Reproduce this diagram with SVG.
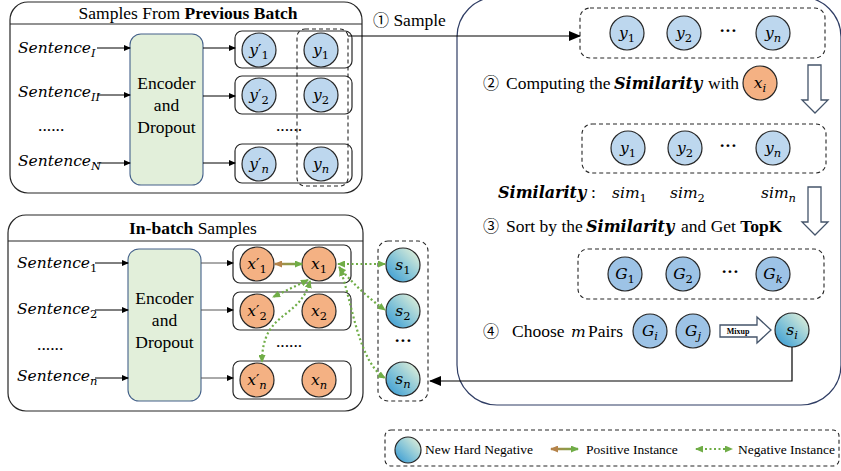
<svg xmlns="http://www.w3.org/2000/svg" width="841" height="471" viewBox="0 0 841 471">
<style>
.t{font-family:"Liberation Serif","Times New Roman",serif;font-size:17.5px;fill:#000}
.m{font-family:"DejaVu Serif",serif;font-style:italic;font-size:15.5px;fill:#000}
.mb{font-family:"DejaVu Serif",serif;font-style:italic;font-weight:bold;font-size:16px;fill:#000}
.cn{font-family:"Noto Sans CJK JP","DejaVu Sans",sans-serif;font-size:16px;font-weight:normal}
.sb{font-size:11.5px;font-style:normal}
.si{font-size:11.5px;font-style:italic}
.pr{font-size:15px;font-style:normal}
.box{fill:#fff;stroke:#262626;stroke-width:1.2}
.row{fill:none;stroke:#262626;stroke-width:1.2}
.dash{fill:none;stroke:#262626;stroke-width:1.1;stroke-dasharray:4 3}
.enc{fill:#e2efda;stroke:#44618a;stroke-width:1.1}
.cb{fill:#bdd7ee;stroke:#262626;stroke-width:1.2}
.cg{fill:#9dc3e6;stroke:#262626;stroke-width:1.2}
.co{fill:#f4b183;stroke:#262626;stroke-width:1.2}
.cs{fill:url(#sg);stroke:#262626;stroke-width:1.2}
.ar{stroke:#000;stroke-width:1;fill:none;marker-end:url(#ah)}
.arg{stroke:#555;stroke-width:1;fill:none;marker-end:url(#ah)}
.neg{stroke:#70ad47;stroke-width:2.2;stroke-dasharray:2 2.5;fill:none;marker-start:url(#gh);marker-end:url(#gh)}
.hol{fill:#fff;stroke:#44546a;stroke-width:1.3}
.lg{font-family:"Liberation Serif","Times New Roman",serif;font-size:13.5px;fill:#000}
</style>
<defs>
<marker id="ah" markerWidth="7" markerHeight="6" refX="6" refY="3" orient="auto" markerUnits="userSpaceOnUse"><path d="M0,0 L7,3 L0,6 Z" fill="#000"/></marker>
<marker id="bh" markerWidth="12" markerHeight="10" refX="11" refY="5" orient="auto" markerUnits="userSpaceOnUse"><path d="M0,0 L12,5 L0,10 Z" fill="#000"/></marker>
<marker id="gh" markerWidth="8" markerHeight="7" refX="7" refY="3.5" orient="auto-start-reverse" markerUnits="userSpaceOnUse"><path d="M0,0 L8,3.5 L0,7 Z" fill="#70ad47"/></marker>
<marker id="brh" markerWidth="8" markerHeight="7" refX="7" refY="3.5" orient="auto-start-reverse" markerUnits="userSpaceOnUse"><path d="M0,0 L8,3.5 L0,7 Z" fill="#b5834a"/></marker>
<linearGradient id="sg" x1="0" y1="1" x2="1" y2="0"><stop offset="0" stop-color="#2e95d3"/><stop offset="0.5" stop-color="#8cc8d8"/><stop offset="1" stop-color="#eef5d8"/></linearGradient>
<linearGradient id="pg" gradientUnits="userSpaceOnUse" x1="275" y1="0" x2="302" y2="0"><stop offset="0" stop-color="#b5834a"/><stop offset="1" stop-color="#70ad47"/></linearGradient>
<linearGradient id="pg2" gradientUnits="userSpaceOnUse" x1="550" y1="0" x2="580" y2="0"><stop offset="0" stop-color="#b5834a"/><stop offset="1" stop-color="#70ad47"/></linearGradient>
</defs>

<!-- Big right panel -->
<g id="panel">
<rect x="457" y="-3" width="384" height="408" rx="40" fill="none" stroke="#2f3d64" stroke-width="1.2"/>
</g>

<!-- Previous batch box -->
<g id="prev-batch">
<rect class="box" x="10" y="2" width="352" height="191" rx="18"/>
<line x1="10" y1="24" x2="362" y2="24" stroke="#262626" stroke-width="1.2"/>
<text class="t" x="188" y="19" text-anchor="middle">Samples From <tspan font-weight="bold">Previous Batch</tspan></text>
<text class="m" x="18" y="53">Sentence<tspan class="si" dy="4">I</tspan></text>
<text class="m" x="18" y="97">Sentence<tspan class="si" dy="4">II</tspan></text>
<text class="t" x="38" y="131">......</text>
<text class="m" x="18" y="166">Sentence<tspan class="si" dy="4">N</tspan></text>
</g>
<g id="enc1">
<rect class="enc" x="130" y="34" width="73" height="151" rx="11"/>
<text class="t" x="166.5" y="89" text-anchor="middle">Encoder</text>
<text class="t" x="166.5" y="111" text-anchor="middle">and</text>
<text class="t" x="166.5" y="133" text-anchor="middle">Dropout</text>
</g>
<g id="yrows">
<rect class="row" x="235" y="31" width="117" height="37" rx="7"/>
<rect class="row" x="235" y="76" width="117" height="38" rx="7"/>
<rect class="row" x="235" y="144" width="117" height="39" rx="7"/>
<rect class="dash" x="297" y="29" width="51" height="157" rx="8"/>
<circle class="cb" cx="259" cy="50" r="17"/>
<circle class="cb" cx="321" cy="50" r="17"/>
<circle class="cb" cx="259" cy="95" r="17"/>
<circle class="cb" cx="321" cy="95" r="17"/>
<circle class="cb" cx="259" cy="164" r="17"/>
<circle class="cb" cx="321" cy="164" r="17"/>
<text class="m" x="259" y="55" text-anchor="middle" font-size="16">y<tspan class="pr">′</tspan><tspan class="sb" dy="4">1</tspan></text>
<text class="m" x="321" y="55" text-anchor="middle" font-size="16">y<tspan class="sb" dy="4">1</tspan></text>
<text class="m" x="259" y="100" text-anchor="middle" font-size="16">y<tspan class="pr">′</tspan><tspan class="sb" dy="4">2</tspan></text>
<text class="m" x="321" y="100" text-anchor="middle" font-size="16">y<tspan class="sb" dy="4">2</tspan></text>
<text class="m" x="259" y="169" text-anchor="middle" font-size="16">y<tspan class="pr">′</tspan><tspan class="si" dy="4">n</tspan></text>
<text class="m" x="321" y="169" text-anchor="middle" font-size="16">y<tspan class="si" dy="4">n</tspan></text>
<text class="t" x="289" y="131" text-anchor="middle">......</text>
</g>

<!-- In-batch box -->
<g id="in-batch">
<rect class="box" x="8" y="215" width="355" height="196" rx="18"/>
<line x1="8" y1="241" x2="363" y2="241" stroke="#262626" stroke-width="1.2"/>
<text class="t" x="193" y="234" text-anchor="middle"><tspan font-weight="bold">In-batch</tspan> Samples</text>
<text class="m" x="17" y="268">Sentence<tspan class="sb" dy="4">1</tspan></text>
<text class="m" x="17" y="314">Sentence<tspan class="sb" dy="4">2</tspan></text>
<text class="t" x="37" y="350">......</text>
<text class="m" x="17" y="381">Sentence<tspan class="si" dy="4">n</tspan></text>
</g>
<g id="enc2">
<rect class="enc" x="128" y="249" width="73" height="152" rx="11"/>
<text class="t" x="164.5" y="304" text-anchor="middle">Encoder</text>
<text class="t" x="164.5" y="326" text-anchor="middle">and</text>
<text class="t" x="164.5" y="348" text-anchor="middle">Dropout</text>
</g>
<g id="xrows">
<rect class="row" x="233" y="245" width="118" height="38" rx="7"/>
<rect class="row" x="233" y="292" width="118" height="38" rx="7"/>
<rect class="row" x="233" y="361" width="118" height="38" rx="7"/>
<circle class="co" cx="257" cy="264" r="17"/>
<circle class="co" cx="319" cy="264" r="17"/>
<circle class="co" cx="257" cy="311" r="17"/>
<circle class="co" cx="319" cy="311" r="17"/>
<circle class="co" cx="257" cy="380" r="17"/>
<circle class="co" cx="319" cy="380" r="17"/>
<text class="m" x="257" y="269" text-anchor="middle" font-size="16">x<tspan class="pr">′</tspan><tspan class="sb" dy="4">1</tspan></text>
<text class="m" x="319" y="269" text-anchor="middle" font-size="16">x<tspan class="sb" dy="4">1</tspan></text>
<text class="m" x="257" y="316" text-anchor="middle" font-size="16">x<tspan class="pr">′</tspan><tspan class="sb" dy="4">2</tspan></text>
<text class="m" x="319" y="316" text-anchor="middle" font-size="16">x<tspan class="sb" dy="4">2</tspan></text>
<text class="m" x="257" y="385" text-anchor="middle" font-size="16">x<tspan class="pr">′</tspan><tspan class="si" dy="4">n</tspan></text>
<text class="m" x="319" y="385" text-anchor="middle" font-size="16">x<tspan class="si" dy="4">n</tspan></text>
<text class="t" x="289" y="347" text-anchor="middle">......</text>
</g>
<g id="s-col">
<rect class="dash" x="378" y="241" width="50" height="160" rx="10"/>
<circle class="cs" cx="403" cy="265" r="17"/>
<circle class="cs" cx="403" cy="311" r="17"/>
<circle class="cs" cx="403" cy="379" r="17"/>
<text class="m" x="403" y="270" text-anchor="middle" font-size="16">s<tspan class="sb" dy="4">1</tspan></text>
<text class="m" x="403" y="316" text-anchor="middle" font-size="16">s<tspan class="sb" dy="4">2</tspan></text>
<text class="m" x="403" y="384" text-anchor="middle" font-size="16">s<tspan class="si" dy="4">n</tspan></text>
<text class="t" x="403" y="346" text-anchor="middle" font-weight="bold">···</text>
</g>

<!-- Right panel contents -->
<g id="step1">
<text class="t" x="373" y="26"><tspan class="cn">①</tspan> Sample</text>
</g>
<g id="ybox1">
<rect class="dash" x="580" y="8" width="245" height="50" rx="10"/>
<circle class="cb" cx="627" cy="33" r="17"/>
<circle class="cb" cx="684" cy="33" r="17"/>
<circle class="cb" cx="773" cy="33" r="17"/>
<text class="m" x="627" y="38" text-anchor="middle" font-size="16">y<tspan class="sb" dy="4">1</tspan></text>
<text class="m" x="684" y="38" text-anchor="middle" font-size="16">y<tspan class="sb" dy="4">2</tspan></text>
<text class="m" x="773" y="38" text-anchor="middle" font-size="16">y<tspan class="si" dy="4">n</tspan></text>
<text class="t" x="728" y="36" text-anchor="middle" font-weight="bold">···</text>
</g>
<g id="step2">
<text class="cn" x="483" y="89">②</text>
<text class="t" x="506" y="89">Computing the</text>
<text class="mb" x="614" y="89">Similarity</text>
<text class="t" x="708" y="89">with</text>
<circle class="co" cx="760" cy="83" r="17"/>
<text class="m" x="760" y="88" text-anchor="middle" font-size="16">x<tspan class="si" dy="4">i</tspan></text>
</g>
<g id="ybox2">
<rect class="dash" x="582" y="124" width="244" height="49" rx="10"/>
<circle class="cb" cx="628" cy="148" r="17"/>
<circle class="cb" cx="685" cy="148" r="17"/>
<circle class="cb" cx="773" cy="148" r="17"/>
<text class="m" x="628" y="153" text-anchor="middle" font-size="16">y<tspan class="sb" dy="4">1</tspan></text>
<text class="m" x="685" y="153" text-anchor="middle" font-size="16">y<tspan class="sb" dy="4">2</tspan></text>
<text class="m" x="773" y="153" text-anchor="middle" font-size="16">y<tspan class="si" dy="4">n</tspan></text>
<text class="t" x="728" y="151" text-anchor="middle" font-weight="bold">···</text>
</g>
<g id="sims">
<text class="mb" x="498" y="198">Similarity</text>
<text class="t" x="591" y="198">:</text>
<text class="m" x="612" y="198">sim<tspan class="sb" dy="4">1</tspan></text>
<text class="m" x="670" y="198">sim<tspan class="sb" dy="4">2</tspan></text>
<text class="m" x="761" y="198">sim<tspan class="si" dy="4">n</tspan></text>
</g>
<g id="step3">
<text class="cn" x="483" y="232">③</text>
<text class="t" x="506" y="232">Sort by the</text>
<text class="mb" x="586" y="232">Similarity</text>
<text class="t" x="681" y="232">and Get <tspan font-weight="bold">TopK</tspan></text>
</g>
<g id="gbox">
<rect class="dash" x="578" y="249" width="246" height="50" rx="10"/>
<circle class="cg" cx="625" cy="274" r="17"/>
<circle class="cg" cx="683" cy="274" r="17"/>
<circle class="cg" cx="773" cy="274" r="17"/>
<text class="m" x="625" y="279" text-anchor="middle" font-size="16">G<tspan class="sb" dy="4">1</tspan></text>
<text class="m" x="683" y="279" text-anchor="middle" font-size="16">G<tspan class="sb" dy="4">2</tspan></text>
<text class="m" x="773" y="279" text-anchor="middle" font-size="16">G<tspan class="si" dy="4">k</tspan></text>
<text class="t" x="730" y="277" text-anchor="middle" font-weight="bold">···</text>
</g>
<g id="step4">
<text class="cn" x="483" y="337">④</text>
<text class="t" x="512" y="337">Choose</text>
<text class="m" x="571" y="337">m</text>
<text class="t" x="588" y="337">Pairs</text>
<circle class="cg" cx="650" cy="331" r="17"/>
<circle class="cg" cx="693" cy="331" r="17"/>
<text class="m" x="650" y="336" text-anchor="middle" font-size="16">G<tspan class="si" dy="4">i</tspan></text>
<text class="m" x="693" y="336" text-anchor="middle" font-size="16">G<tspan class="si" dy="4">j</tspan></text>
<polygon class="hol" points="720,325 757,325 757,317 771,330 757,343 757,337 720,337"/>
<text x="738" y="334" text-anchor="middle" font-family="Liberation Serif" font-weight="bold" font-size="8">Mixup</text>
<circle class="cs" cx="792" cy="330" r="17"/>
<text class="m" x="792" y="335" text-anchor="middle" font-size="16">s<tspan class="si" dy="4">i</tspan></text>
</g>

<!-- Connectors -->
<g id="connectors">
<line class="ar" x1="97" y1="48" x2="130" y2="48"/>
<line class="ar" x1="97" y1="95" x2="130" y2="95"/>
<line class="ar" x1="97" y1="163" x2="130" y2="163"/>
<line class="ar" x1="203" y1="48" x2="235" y2="48"/>
<line class="ar" x1="203" y1="96" x2="235" y2="96"/>
<line class="ar" x1="203" y1="163" x2="235" y2="163"/>
<line class="ar" x1="95" y1="263" x2="128" y2="263"/>
<line class="ar" x1="95" y1="310" x2="128" y2="310"/>
<line class="ar" x1="95" y1="378" x2="128" y2="378"/>
<line class="arg" x1="201" y1="263" x2="233" y2="263"/>
<line class="arg" x1="201" y1="310" x2="233" y2="310"/>
<line class="arg" x1="201" y1="378" x2="233" y2="378"/>
<path d="M348,36 L580,36" stroke="#000" stroke-width="1.2" fill="none" marker-end="url(#bh)"/>
<path d="M792,347 L792,381 L430,381" stroke="#000" stroke-width="1.2" fill="none" marker-end="url(#bh)"/>
<polygon class="hol" points="808,65 821,65 821,100 828,100 815,113 802,100 808,100"/>
<polygon class="hol" points="808,187 821,187 821,222 828,222 815,235 802,222 808,222"/>
<path d="M275,264 L302,264" stroke="url(#pg)" stroke-width="2.5" fill="none" marker-start="url(#brh)" marker-end="url(#gh)"/>
<path class="neg" d="M338,264 L385,264"/>
<path class="neg" d="M339,267 Q360,292 385,310"/>
<path class="neg" d="M340,269 C352,300 358,362 385,378"/>
<path class="neg" d="M308,280 L273,297"/>
<path class="neg" d="M310,281 C300,320 262,310 262,362"/>
</g>

<!-- Legend -->
<g id="legend">
<rect class="dash" x="385" y="430" width="454" height="36" rx="6"/>
<circle class="cs" cx="408" cy="450" r="13"/>
<text class="lg" x="425" y="454">New Hard Negative</text>
<path d="M551,449 L578,449" stroke="url(#pg2)" stroke-width="2.5" fill="none" marker-start="url(#brh)" marker-end="url(#gh)"/>
<text class="lg" x="586" y="454">Positive Instance</text>
<path class="neg" d="M696,449 L732,449"/>
<text class="lg" x="738" y="454">Negative Instance</text>
</g>
</svg>
